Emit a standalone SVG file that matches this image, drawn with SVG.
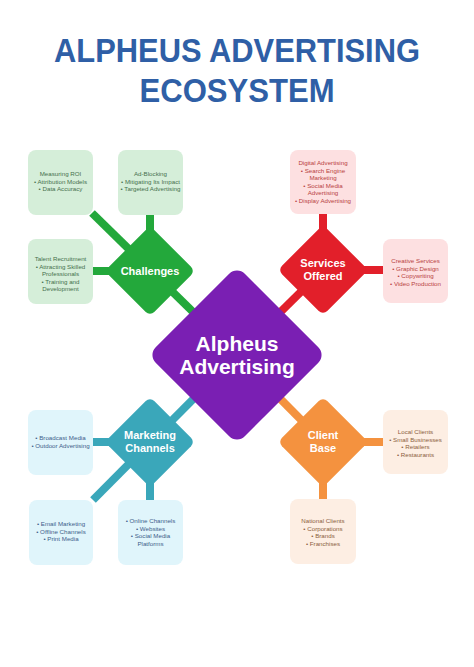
<svg xmlns="http://www.w3.org/2000/svg" width="474" height="667" viewBox="0 0 474 667">
<style>
.title{font-family:"Liberation Sans",Arial,sans-serif;font-weight:bold;fill:#2f5fa6;text-anchor:middle}
.dtext{font-family:"Liberation Sans",Arial,sans-serif;font-weight:bold;fill:#ffffff;text-anchor:middle;font-size:11px}
.ctext{font-family:"Liberation Sans",Arial,sans-serif;font-weight:bold;fill:#ffffff;text-anchor:middle;font-size:21px}
.btext{font-family:"Liberation Sans",Arial,sans-serif;text-anchor:middle;font-size:6.2px}
.g{fill:#d5eed9}.gt{fill:#46704d}
.r{fill:#fde0e1}.rt{fill:#b8423f}
.t{fill:#e0f5fb}.tt{fill:#3e5d8a}
.o{fill:#fdeee3}.ot{fill:#8b5e40}
.cg{stroke:#23a83b}.cr{stroke:#e21f2a}.ct{stroke:#3aa7ba}.co{stroke:#f4923f}
.conn line{stroke-width:8;fill:none}
</style>
<rect width="474" height="667" fill="#ffffff"/>
<text class="title" x="237" y="62" font-size="33" textLength="366" lengthAdjust="spacingAndGlyphs">ALPHEUS ADVERTISING</text>
<text class="title" x="237" y="102" font-size="33" textLength="195" lengthAdjust="spacingAndGlyphs">ECOSYSTEM</text>

<g id="connectors" class="conn">
<line class="cg" x1="92" y1="213" x2="237" y2="355"/>
<line class="cg" x1="150" y1="212" x2="150" y2="240"/>
<line class="cg" x1="92" y1="271" x2="120" y2="271"/>
<line class="cr" x1="237" y1="355" x2="323" y2="270"/>
<line class="cr" x1="323" y1="212" x2="323" y2="240"/>
<line class="cr" x1="350" y1="270" x2="385" y2="270"/>
<line class="ct" x1="237" y1="355" x2="93" y2="500"/>
<line class="ct" x1="150" y1="460" x2="150" y2="502"/>
<line class="ct" x1="92" y1="442" x2="120" y2="442"/>
<line class="co" x1="237" y1="355" x2="323" y2="442"/>
<line class="co" x1="323" y1="460" x2="323" y2="500"/>
<line class="co" x1="350" y1="442" x2="385" y2="442"/>
</g>

<g id="box-measuring-roi">
<rect class="g" x="28" y="150" width="65" height="65" rx="8"/>
<text class="btext gt"><tspan x="60.5" y="176">Measuring ROI</tspan><tspan x="60.5" y="183.5">• Attribution Models</tspan><tspan x="60.5" y="191">• Data Accuracy</tspan></text>
</g>
<g id="box-ad-blocking">
<rect class="g" x="118" y="150" width="65" height="65" rx="8"/>
<text class="btext gt"><tspan x="150.5" y="176">Ad-Blocking</tspan><tspan x="150.5" y="183.5">• Mitigating Its Impact</tspan><tspan x="150.5" y="191">• Targeted Advertising</tspan></text>
</g>
<g id="box-talent">
<rect class="g" x="28" y="239" width="65" height="65" rx="8"/>
<text class="btext gt"><tspan x="60.5" y="261">Talent Recruitment</tspan><tspan x="60.5" y="268.5">• Attracting Skilled</tspan><tspan x="60.5" y="276">Professionals</tspan><tspan x="60.5" y="283.5">• Training and</tspan><tspan x="60.5" y="291">Development</tspan></text>
</g>
<g id="box-digital">
<rect class="r" x="290" y="150" width="66" height="64" rx="8"/>
<text class="btext rt"><tspan x="323" y="165">Digital Advertising</tspan><tspan x="323" y="172.5">• Search Engine</tspan><tspan x="323" y="180">Marketing</tspan><tspan x="323" y="187.5">• Social Media</tspan><tspan x="323" y="195">Advertising</tspan><tspan x="323" y="202.5">• Display Advertising</tspan></text>
</g>
<g id="box-creative">
<rect class="r" x="383" y="239" width="65" height="64" rx="8"/>
<text class="btext rt"><tspan x="415.5" y="263">Creative Services</tspan><tspan x="415.5" y="270.5">• Graphic Design</tspan><tspan x="415.5" y="278">• Copywriting</tspan><tspan x="415.5" y="285.5">• Video Production</tspan></text>
</g>
<g id="box-broadcast">
<rect class="t" x="28" y="410" width="65" height="65" rx="8"/>
<text class="btext tt"><tspan x="60.5" y="440">• Broadcast Media</tspan><tspan x="60.5" y="447.5">• Outdoor Advertising</tspan></text>
</g>
<g id="box-email">
<rect class="t" x="29" y="500" width="64" height="65" rx="8"/>
<text class="btext tt"><tspan x="61" y="526">• Email Marketing</tspan><tspan x="61" y="533.5">• Offline Channels</tspan><tspan x="61" y="541">• Print Media</tspan></text>
</g>
<g id="box-online">
<rect class="t" x="118" y="500" width="65" height="65" rx="8"/>
<text class="btext tt"><tspan x="150.5" y="523">• Online Channels</tspan><tspan x="150.5" y="530.5">• Websites</tspan><tspan x="150.5" y="538">• Social Media</tspan><tspan x="150.5" y="545.5">Platforms</tspan></text>
</g>
<g id="box-local">
<rect class="o" x="383" y="410" width="65" height="64" rx="8"/>
<text class="btext ot"><tspan x="415.5" y="434">Local Clients</tspan><tspan x="415.5" y="441.5">• Small Businesses</tspan><tspan x="415.5" y="449">• Retailers</tspan><tspan x="415.5" y="456.5">• Restaurants</tspan></text>
</g>
<g id="box-national">
<rect class="o" x="290" y="499" width="66" height="65" rx="8"/>
<text class="btext ot"><tspan x="323" y="523">National Clients</tspan><tspan x="323" y="530.5">• Corporations</tspan><tspan x="323" y="538">• Brands</tspan><tspan x="323" y="545.5">• Franchises</tspan></text>
</g>

<g id="node-challenges">
<rect x="-32" y="-32" width="64" height="64" rx="6" fill="#23a83b" transform="translate(150 271) rotate(45)"/>
<text class="dtext" x="150" y="275">Challenges</text>
</g>
<g id="node-services">
<rect x="-32" y="-32" width="64" height="64" rx="6" fill="#e21f2a" transform="translate(323 270) rotate(45)"/>
<text class="dtext"><tspan x="323" y="267">Services</tspan><tspan x="323" y="280">Offered</tspan></text>
</g>
<g id="node-marketing">
<rect x="-32" y="-32" width="64" height="64" rx="6" fill="#3aa7ba" transform="translate(150 442) rotate(45)"/>
<text class="dtext"><tspan x="150" y="439">Marketing</tspan><tspan x="150" y="452">Channels</tspan></text>
</g>
<g id="node-client">
<rect x="-32" y="-32" width="64" height="64" rx="6" fill="#f4923f" transform="translate(323 442) rotate(45)"/>
<text class="dtext"><tspan x="323" y="439">Client</tspan><tspan x="323" y="452">Base</tspan></text>
</g>
<g id="node-center">
<rect x="-63" y="-63" width="126" height="126" rx="11" fill="#7a1fb3" transform="translate(237 355) rotate(45)"/>
<text class="ctext"><tspan x="237" y="351">Alpheus</tspan><tspan x="237" y="374">Advertising</tspan></text>
</g>
</svg>
